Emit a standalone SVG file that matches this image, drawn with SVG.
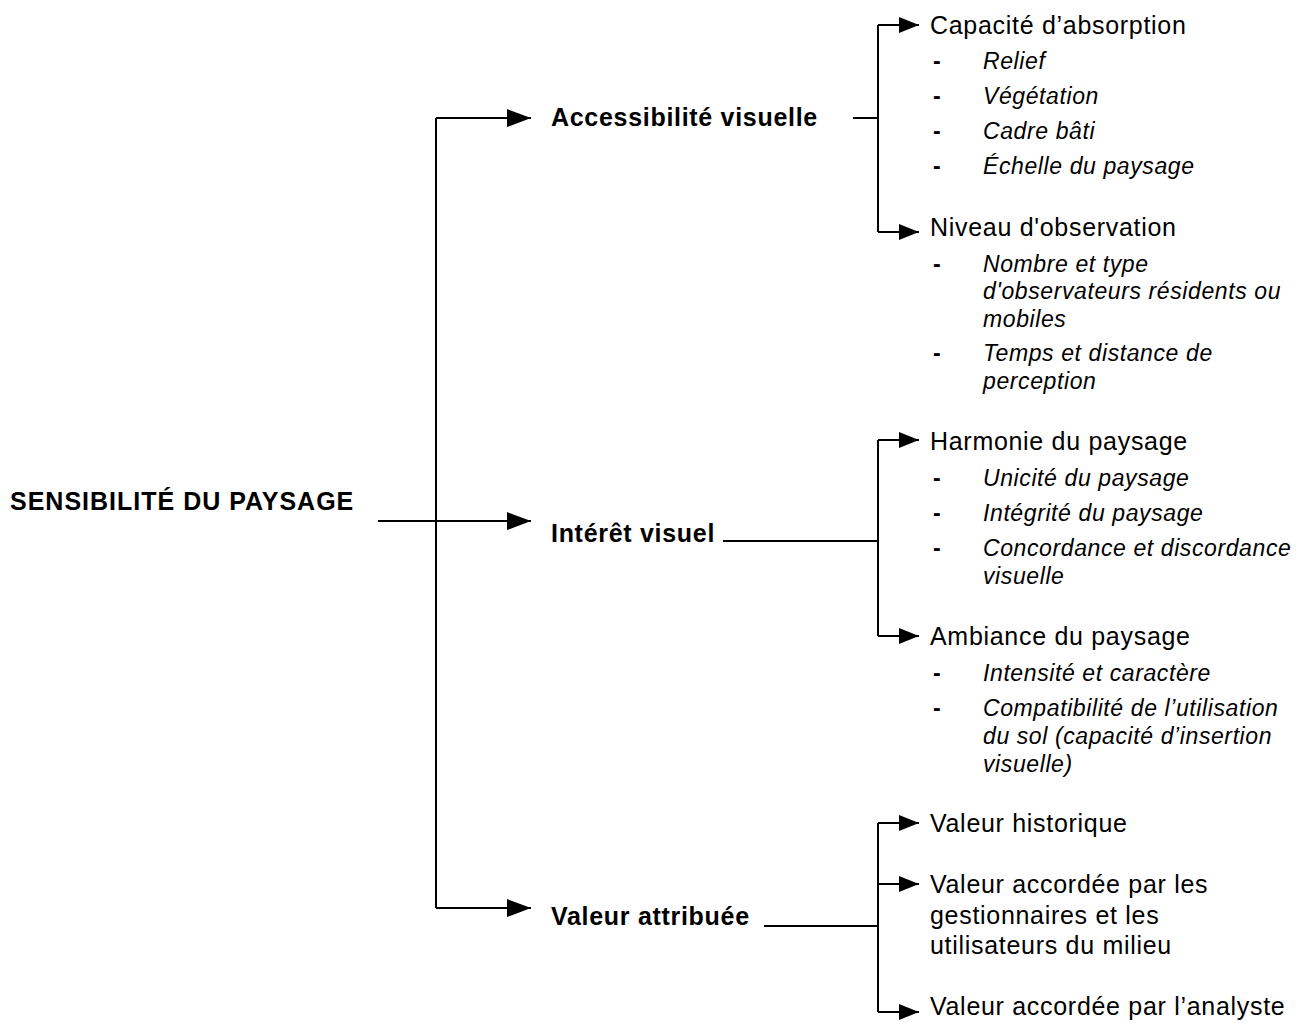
<svg xmlns="http://www.w3.org/2000/svg" width="1304" height="1024" viewBox="0 0 1304 1024">
<defs>
<style>
.b{font-family:"Liberation Sans",Arial,sans-serif;font-weight:bold;font-size:25px;letter-spacing:0.7px;fill:#000}
.r{font-family:"Liberation Sans",Arial,sans-serif;font-size:25px;letter-spacing:0.7px;fill:#000}
.i{font-family:"Liberation Sans",Arial,sans-serif;font-style:italic;font-size:23px;letter-spacing:0.6px;fill:#000}
.d{font-family:"Liberation Sans",Arial,sans-serif;font-weight:bold;font-size:23px;fill:#000}
.c{fill:none;stroke:#000;stroke-width:2}
</style>
<marker id="big" markerUnits="userSpaceOnUse" markerWidth="26" markerHeight="20" refX="24" refY="10" orient="auto">
<path d="M0,1 L24,10 L0,19 Z" fill="#000"/>
</marker>
<marker id="sm" markerUnits="userSpaceOnUse" markerWidth="22" markerHeight="18" refX="20" refY="9" orient="auto">
<path d="M0,1 L20,9 L0,17 Z" fill="#000"/>
</marker>
</defs>
<rect width="1304" height="1024" fill="#fff"/>
<g id="connectors">
<path class="c" d="M436,118 V908"/>
<path class="c" d="M436,118 H531" marker-end="url(#big)"/>
<path class="c" d="M378,521 H531" marker-end="url(#big)"/>
<path class="c" d="M436,908 H531" marker-end="url(#big)"/>
<path class="c" d="M853,118 H878"/>
<path class="c" d="M878,25 V232"/>
<path class="c" d="M878,25 H919" marker-end="url(#sm)"/>
<path class="c" d="M878,232 H919" marker-end="url(#sm)"/>
<path class="c" d="M723,541 H878"/>
<path class="c" d="M878,440 V636"/>
<path class="c" d="M878,440 H919" marker-end="url(#sm)"/>
<path class="c" d="M878,636 H919" marker-end="url(#sm)"/>
<path class="c" d="M764,926 H878"/>
<path class="c" d="M878,823 V1012"/>
<path class="c" d="M878,823 H919" marker-end="url(#sm)"/>
<path class="c" d="M878,884 H919" marker-end="url(#sm)"/>
<path class="c" d="M878,1012 H919" marker-end="url(#sm)"/>
</g>
<g id="root"><text class="b" x="10" y="510" style="letter-spacing:1px">SENSIBILITÉ DU PAYSAGE</text></g>
<g id="accessibilite"><text class="b" x="551" y="126">Accessibilité visuelle</text></g>
<g id="interet"><text class="b" x="551" y="542">Intérêt visuel</text></g>
<g id="valeur"><text class="b" x="551" y="925">Valeur attribuée</text></g>
<g id="capacite">
<text class="r" x="930" y="34">Capacité d’absorption</text>
<text class="d" x="933" y="69">-</text><text class="i" x="983" y="69">Relief</text>
<text class="d" x="933" y="104">-</text><text class="i" x="983" y="104">Végétation</text>
<text class="d" x="933" y="139">-</text><text class="i" x="983" y="139">Cadre bâti</text>
<text class="d" x="933" y="174">-</text><text class="i" x="983" y="174">Échelle du paysage</text>
</g>
<g id="niveau">
<text class="r" x="930" y="236">Niveau d'observation</text>
<text class="d" x="933" y="272">-</text><text class="i" x="983" y="272">Nombre et type</text>
<text class="i" x="983" y="299">d'observateurs résidents ou</text>
<text class="i" x="983" y="327">mobiles</text>
<text class="d" x="933" y="361">-</text><text class="i" x="983" y="361">Temps et distance de</text>
<text class="i" x="983" y="389">perception</text>
</g>
<g id="harmonie">
<text class="r" x="930" y="450">Harmonie du paysage</text>
<text class="d" x="933" y="486">-</text><text class="i" x="983" y="486">Unicité du paysage</text>
<text class="d" x="933" y="521">-</text><text class="i" x="983" y="521">Intégrité du paysage</text>
<text class="d" x="933" y="556">-</text><text class="i" x="983" y="556">Concordance et discordance</text>
<text class="i" x="983" y="584">visuelle</text>
</g>
<g id="ambiance">
<text class="r" x="930" y="645">Ambiance du paysage</text>
<text class="d" x="933" y="681">-</text><text class="i" x="983" y="681">Intensité et caractère</text>
<text class="d" x="933" y="716">-</text><text class="i" x="983" y="716">Compatibilité de l’utilisation</text>
<text class="i" x="983" y="744">du sol (capacité d’insertion</text>
<text class="i" x="983" y="772">visuelle)</text>
</g>
<g id="historique"><text class="r" x="930" y="832">Valeur historique</text></g>
<g id="gestionnaires">
<text class="r" x="930" y="893">Valeur accordée par les</text>
<text class="r" x="930" y="924">gestionnaires et les</text>
<text class="r" x="930" y="954">utilisateurs du milieu</text>
</g>
<g id="analyste"><text class="r" x="930" y="1015">Valeur accordée par l’analyste</text></g>
</svg>
